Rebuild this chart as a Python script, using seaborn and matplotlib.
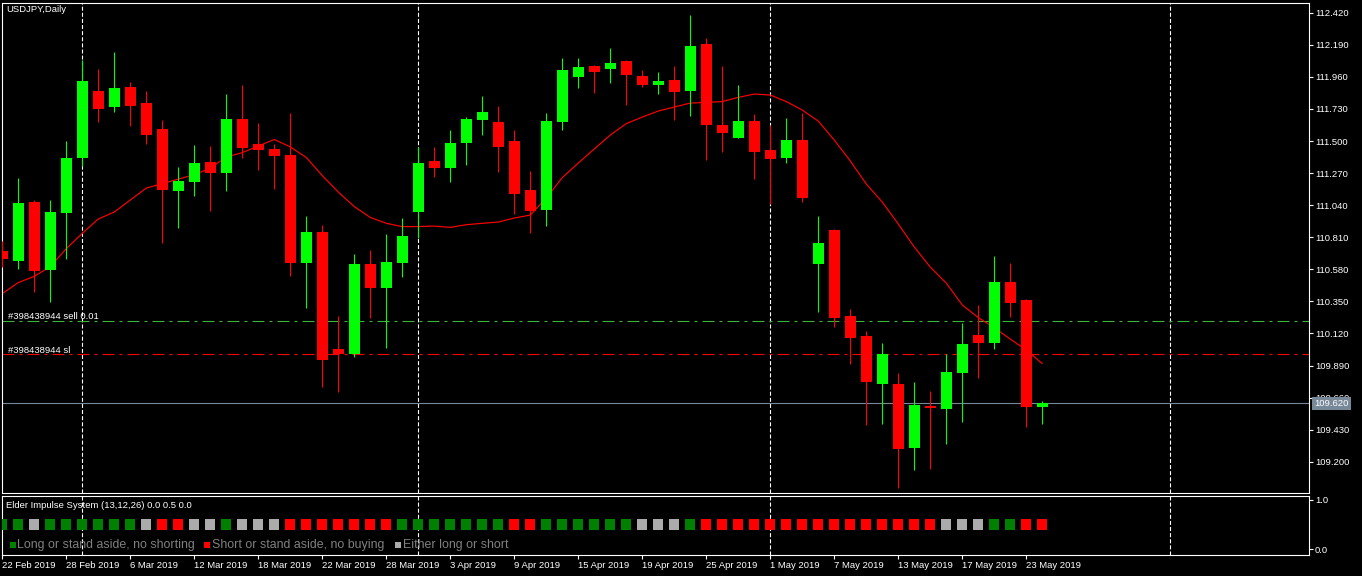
import numpy as np
import pandas as pd
import matplotlib
matplotlib.use("Agg")
import matplotlib.pyplot as plt
import matplotlib.transforms as mtransforms
import seaborn as sns

# ---------------- data ----------------
chart_title = "USDJPY,Daily"
indicator_title = "Elder Impulse System (13,12,26) 0.0 0.5 0.0"
order_id = "#398438944"

opens = [110.711, 110.641, 111.065, 110.575, 110.986, 111.380, 111.859, 111.746, 111.885, 111.772,
         111.586, 111.144, 111.208, 111.347, 111.273, 111.658, 111.478, 111.443, 111.400, 110.627,
         110.847, 110.008, 109.972, 110.618, 110.448, 110.627, 110.993, 111.354, 111.308, 111.488,
         111.653, 111.636, 111.500, 111.148, 111.007, 111.638, 111.961, 112.038, 112.016, 112.074,
         111.966, 111.902, 111.937, 111.861, 112.196, 111.615, 111.524, 111.643, 111.435, 111.380,
         111.507, 110.620, 110.862, 110.245, 110.101, 109.759, 109.759, 109.300, 109.602, 109.580,
         109.838, 110.109, 110.053, 110.489, 110.360, 109.594]
highs = [110.780, 111.232, 111.080, 111.077, 111.500, 112.081, 112.016, 112.138, 111.925, 111.861,
         111.650, 111.316, 111.471, 111.464, 111.837, 111.902, 111.627, 111.478, 111.699, 110.962,
         110.898, 110.245, 110.690, 110.719, 110.833, 110.946, 111.459, 111.457, 111.579, 111.674,
         111.823, 111.751, 111.579, 111.285, 111.703, 112.093, 112.093, 112.045, 112.167, 112.080,
         112.009, 111.995, 112.038, 112.404, 112.239, 112.038, 111.902, 111.694, 111.615, 111.665,
         111.701, 110.962, 110.870, 110.295, 110.137, 110.051, 109.836, 109.772, 109.707, 109.972,
         110.195, 110.324, 110.675, 110.625, 110.367, 109.635]
lows = [110.600, 110.580, 110.419, 110.347, 110.654, 111.321, 111.638, 111.710, 111.610, 111.478,
        110.771, 110.878, 111.108, 111.000, 111.144, 111.380, 111.292, 111.156, 110.534, 110.300,
        109.738, 109.702, 109.953, 110.233, 110.018, 110.527, 110.802, 111.244, 111.208, 111.328,
        111.543, 111.280, 110.979, 110.842, 110.892, 111.581, 111.882, 111.846, 111.918, 111.758,
        111.889, 111.837, 111.650, 111.679, 111.364, 111.423, 111.520, 111.230, 111.050, 111.344,
        111.065, 110.276, 110.168, 109.903, 109.463, 109.473, 109.014, 109.143, 109.150, 109.329,
        109.487, 109.802, 110.010, 110.240, 109.451, 109.473]
closes = [110.656, 111.057, 110.568, 110.991, 111.378, 111.930, 111.732, 111.878, 111.753, 111.545,
          111.151, 111.213, 111.342, 111.273, 111.658, 111.452, 111.438, 111.395, 110.627, 110.847,
          109.929, 109.972, 110.618, 110.448, 110.632, 110.819, 111.342, 111.308, 111.486, 111.658,
          111.708, 111.459, 111.122, 111.000, 111.643, 112.009, 112.031, 111.997, 112.059, 111.973,
          111.902, 111.930, 111.853, 112.181, 111.615, 111.559, 111.643, 111.423, 111.373, 111.507,
          111.093, 110.768, 110.233, 110.089, 109.774, 109.972, 109.293, 109.607, 109.587, 109.843,
          110.044, 110.053, 110.489, 110.340, 109.594, 109.620]
ma_values = [110.406, 110.485, 110.530, 110.600, 110.728, 110.838, 110.941, 110.991, 111.077, 111.163,
             111.194, 111.227, 111.258, 111.306, 111.385, 111.417, 111.464, 111.511, 111.458, 111.382,
             111.252, 111.134, 111.030, 110.952, 110.910, 110.886, 110.887, 110.890, 110.881, 110.900,
             110.910, 110.919, 110.948, 110.969, 111.091, 111.238, 111.342, 111.443, 111.543, 111.625,
             111.672, 111.715, 111.744, 111.772, 111.777, 111.783, 111.813, 111.837, 111.830, 111.783,
             111.722, 111.643, 111.507, 111.357, 111.192, 111.062, 110.905, 110.740, 110.596, 110.481,
             110.324, 110.234, 110.161, 110.080, 110.001, 109.904]
# L = long / stand aside (green), S = short / stand aside (red), E = either (gray)
impulse = list("LLELLLLLLESSEELEEESSSSSSSLLLLLLLSSLLLLLLEEELSSSSSSSSSSSSSSSEEELLSS")
impulse_level = 0.5

date_tick_bars = [0, 4, 8, 12, 16, 20, 24, 28, 32, 36, 40, 44, 48, 52, 56, 60, 64]
date_tick_labels = ["22 Feb 2019", "28 Feb 2019", "6 Mar 2019", "12 Mar 2019", "18 Mar 2019",
                    "22 Mar 2019", "28 Mar 2019", "3 Apr 2019", "9 Apr 2019", "15 Apr 2019",
                    "19 Apr 2019", "25 Apr 2019", "1 May 2019", "7 May 2019", "13 May 2019",
                    "17 May 2019", "23 May 2019"]
price_ticks = [112.420, 112.190, 111.960, 111.730, 111.500, 111.270, 111.040, 110.810,
               110.580, 110.350, 110.120, 109.890, 109.660, 109.430, 109.200]
separator_bars = [5, 26, 48, 72.96]
sell_price = 110.207
sl_price = 109.970
current_price = 109.620
legend_labels = ["Long or stand aside, no shorting", "Short or stand aside, no buying",
                 "Either long or short"]
legend_keys = ["L", "S", "E"]

# ---------------- style ----------------
sns.set_theme(style="dark")
plt.rcParams["font.family"] = ["Liberation Sans", "DejaVu Sans"]
plt.rcParams["lines.scale_dashes"] = False
plt.rcParams["axes.facecolor"] = "black"
plt.rcParams["figure.facecolor"] = "black"

UP, DOWN = "#00FF00", "#FF0000"
imp_palette = {"L": "#008000", "S": "#FF0000", "E": "#ABABAB"}
FS = 6.8
W, H = 1362, 576
fig = plt.figure(figsize=(W / 100, H / 100), dpi=100, facecolor="black")


def px_rect(l, t, r, b):
    return [l / W, 1 - b / H, (r - l) / W, (b - t) / H]


ax = fig.add_axes(px_rect(2.3, 2.7, 1309, 493))
ax2 = fig.add_axes(px_rect(2.3, 496, 1309, 555))
xlim = (0, 81.67)

df = pd.DataFrame({"bar": np.arange(len(opens)), "open": opens, "high": highs,
                   "low": lows, "close": closes, "ma": ma_values, "impulse": impulse})
df["color"] = np.where(df["close"] >= df["open"], UP, DOWN)
df["level"] = impulse_level

for a in (ax, ax2):
    a.set_facecolor("black")
    for s in a.spines.values():
        s.set_color("white")
        s.set_linewidth(0.8)
    a.grid(False)
    a.set_xlim(*xlim)
    for b in separator_bars:
        a.axvline(b, color="white", lw=0.8, ls=(0, (2.9, 1.5)), zorder=1)

# horizontal lines
ax.axhline(sell_price, color="#3CB43C", lw=0.8, ls=(0, (8.6, 3.6, 2.2, 3.6)), zorder=1)
ax.axhline(sl_price, color="#FF0000", lw=0.8, ls=(0, (8.6, 3.6, 2.2, 3.6)), zorder=1)
ax.axhline(current_price, color="#778899", lw=0.8, zorder=1)

# MA line
sns.lineplot(x=df["bar"], y=df["ma"], ax=ax, color="#FF0000", linewidth=0.85, zorder=2)

# candles
ax.vlines(df["bar"], df["low"], df["high"], colors=df["color"], linewidth=0.8, zorder=3)
ax.bar(df["bar"], (df["close"] - df["open"]).abs(), bottom=np.minimum(df["open"], df["close"]),
       width=0.69, color=df["color"], linewidth=0, zorder=4)

ax.set_ylim(108.976, 112.492)
ax.set_xlabel("")
ax.set_ylabel("")
ax.yaxis.tick_right()
ax.set_yticks(price_ticks, labels=[f"{v:.3f}" for v in price_ticks])
ax.tick_params(axis="y", colors="white", length=3, width=0.8, labelsize=FS, pad=1.2,
               direction="out", right=True, left=False)
ax.tick_params(axis="x", bottom=False, labelbottom=False)

ax.text(0.0034, 0.986, chart_title, transform=ax.transAxes, color="white", fontsize=FS,
        va="center", ha="left")

blend = mtransforms.blended_transform_factory(ax.transAxes, ax.transData)
ax.annotate(f"{order_id} sell 0.01", xy=(0.0044, sell_price), xycoords=blend,
            xytext=(0, 1.5), textcoords="offset points", va="baseline", ha="left",
            color="white", fontsize=FS)
ax.annotate(f"{order_id} sl", xy=(0.0044, sl_price), xycoords=blend,
            xytext=(0, 1.2), textcoords="offset points", va="baseline", ha="left",
            color="white", fontsize=FS)
ax.annotate(f"{current_price:.3f}", xy=(1.0, current_price), xycoords=blend,
            xytext=(3.8, 0), textcoords="offset points", va="center", ha="left",
            color="white", fontsize=FS, annotation_clip=False, zorder=10,
            bbox=dict(facecolor="#778899", edgecolor="none", pad=1.4))

# indicator panel
sns.scatterplot(data=df, x="bar", y="level", hue="impulse", palette=imp_palette, marker="s",
                s=56, linewidth=0, legend=False, ax=ax2, zorder=3)
ax2.set_ylim(-0.116, 1.081)
ax2.set_xlim(*xlim)
ax2.set_xlabel("")
ax2.set_ylabel("")
ax2.yaxis.tick_right()
ax2.set_yticks([0.0, 1.0], labels=["0.0", "1.0"])
ax2.tick_params(axis="y", colors="white", length=3, width=0.8, labelsize=FS, pad=1.2,
                right=True, left=False)
ax2.set_xticks(date_tick_bars, labels=date_tick_labels)
ax2.tick_params(axis="x", colors="white", length=3, width=0.8, labelsize=FS, pad=1.5,
                bottom=True, direction="out")
for lbl in ax2.get_xticklabels():
    lbl.set_ha("left")

ax2.text(0.0025, 0.84, indicator_title, transform=ax2.transAxes, color="white", fontsize=FS,
         va="center", ha="left")

legend_x = [(13.1, 16.6), (207.0, 212.0), (398.0, 402.8)]
for (sx, tx), key, lab in zip(legend_x, legend_keys, legend_labels):
    ax2.scatter([(sx - 2.3) / 1306.7], [0.17], transform=ax2.transAxes, marker="s", s=21,
                color=imp_palette[key], linewidths=0, zorder=5, clip_on=False)
    ax2.text((tx - 2.3) / 1306.7, 0.17, lab, transform=ax2.transAxes, color="#808080",
             fontsize=8.9, va="center", ha="left")

fig.savefig("out.png", dpi=100, facecolor="black")
